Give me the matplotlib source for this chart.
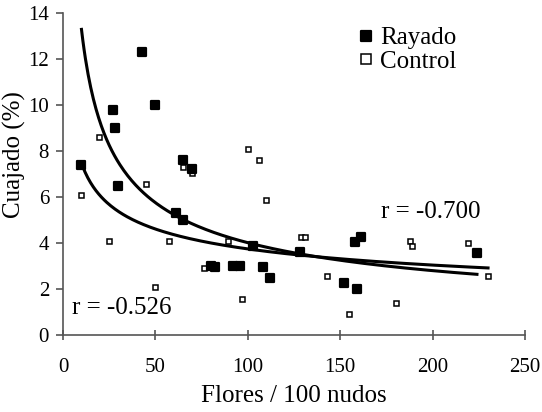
import matplotlib
matplotlib.use("Agg")
import matplotlib.pyplot as plt
from matplotlib.markers import MarkerStyle
import numpy as np

plt.rcParams['font.family'] = ['Liberation Serif', 'DejaVu Serif']

# Rayado (filled squares)
rayado_x = [10, 27, 28, 43, 50, 65, 70, 30, 61, 65, 80, 82, 92, 96, 103,
            108, 112, 128, 152, 159, 158, 161, 224]
rayado_y = [7.4, 9.8, 9.0, 12.3, 10.0, 7.6, 7.2, 6.5, 5.3, 5.0, 3.0, 2.95, 3.0, 3.0, 3.85,
            2.95, 2.5, 3.6, 2.25, 2.0, 4.05, 4.25, 3.55]

# Control (open squares)
control_x = [19.5, 65, 70, 10, 45, 25, 57.5, 50, 76.5, 89.5, 97, 100, 106, 110,
             129, 131, 143, 155, 180, 188, 189, 219, 230]
control_y = [8.6, 7.3, 7.05, 6.1, 6.55, 4.1, 4.1, 2.1, 2.9, 4.1, 1.58, 8.1, 7.6, 5.85,
             4.25, 4.25, 2.55, 0.9, 1.4, 4.1, 3.85, 4.0, 2.55]

# power trend lines y = a * x^b  (a, b, x start, x end)
rayado_fit = (44.0, -0.52, 10, 224)
control_fit = (14.9, -0.30, 10.5, 230)

fig = plt.figure(figsize=(5.42, 4.12), dpi=100)
ax = fig.add_axes([63/542, 1-335/412, 462/542, 322/412])

for a, b, x0, x1 in [rayado_fit, control_fit]:
    xs = np.linspace(x0, x1, 300)
    ax.plot(xs, a * xs ** b, color='black', lw=2.2, zorder=1)

rounded_sq = MarkerStyle('s', joinstyle='round')
ax.plot(control_x, control_y, ls='none', marker='s', ms=3.6, mfc='white',
        mec='black', mew=1.1, label='Control', zorder=2)
ax.plot(rayado_x, rayado_y, ls='none', marker=rounded_sq, ms=6.4, mfc='black',
        mec='black', mew=1.6, label='Rayado', zorder=3)

handles, labels = ax.get_legend_handles_labels()
leg = fig.legend(handles[::-1], labels[::-1], loc='center left',
                 bbox_to_anchor=(359/542, 1-50/412), frameon=False, fontsize=18,
                 handlelength=0.55, handletextpad=0.3, labelspacing=0.05,
                 borderpad=0, borderaxespad=0)
leg.legend_handles[0].set_markersize(6.5)
leg.legend_handles[1].set_markersize(6.5)

ax.text(172.0, 5.35, 'r = -0.700', fontsize=18, va='center', ha='left')
ax.text(5, 1.17, 'r = -0.526', fontsize=18, va='center', ha='left')

ax.set_xlim(0, 250)
ax.set_ylim(0, 14)
ax.set_xticks(range(0, 251, 50))
ax.set_yticks(range(0, 15, 2))
ax.spines['top'].set_visible(False)
ax.spines['right'].set_visible(False)
for s in ['left', 'bottom']:
    ax.spines[s].set_color('#555555')
    ax.spines[s].set_linewidth(1.2)
ax.tick_params(axis='x', direction='inout', length=7, width=1.2, color='#555555',
               labelsize=15, pad=13)
ax.tick_params(axis='y', direction='out', length=5, width=1.2, color='#555555',
               labelsize=15, pad=5)
ax.set_xlabel('Flores / 100 nudos', fontsize=18, labelpad=6)
ax.set_ylabel('Cuajado (%)', fontsize=18, va='center')
ax.yaxis.set_label_coords(-0.105, 0.56)

fig.savefig('out.png', dpi=100)
